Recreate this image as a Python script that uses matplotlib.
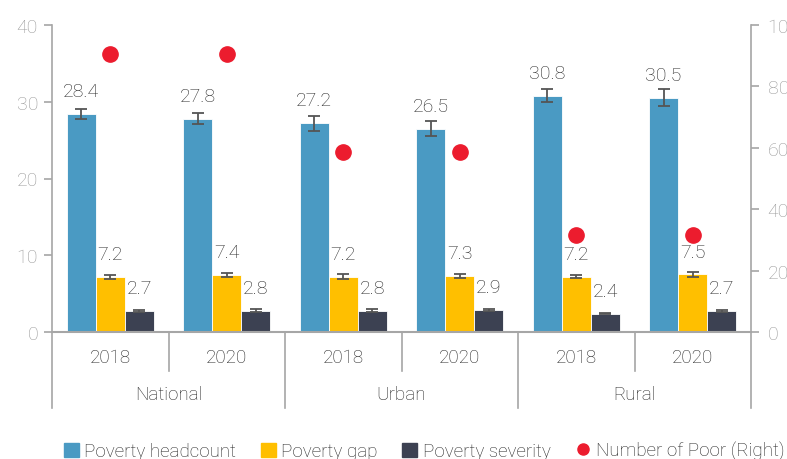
import numpy as np
import matplotlib.pyplot as plt
from matplotlib.lines import Line2D
from matplotlib.patches import Patch

plt.rcParams['font.family'] = ['Roboto', 'DejaVu Sans']
plt.rcParams['font.weight'] = 'light'

groups = ['National', 'Urban', 'Rural']
years = ['2018', '2020', '2018', '2020', '2018', '2020']

headcount = [28.4, 27.8, 27.2, 26.5, 30.8, 30.5]
gap = [7.2, 7.4, 7.2, 7.3, 7.2, 7.5]
severity = [2.7, 2.8, 2.8, 2.9, 2.4, 2.7]
num_poor = [90.5, 90.5, 58.5, 58.5, 31.5, 31.5]

headcount_err = [0.7, 0.75, 0.95, 1.0, 0.8, 1.1]
gap_err = [0.25, 0.25, 0.3, 0.3, 0.2, 0.3]
severity_err = [0.15, 0.15, 0.15, 0.15, 0.1, 0.15]

c_blue = '#4a9ac3'
c_yellow = '#ffbf00'
c_dark = '#3c4152'
c_red = '#ec1c2e'
c_axis = '#a6a6a6'
c_tick = '#999999'
c_text = '#262626'

fig = plt.figure(figsize=(7.87, 4.6), dpi=100)
ax = fig.add_axes([52/787, 1-333/460, (751-52)/787, (333-26)/460])
ax2 = ax.twinx()

x = np.arange(len(years))
w = 0.25
ekw = dict(ecolor='#555555', elinewidth=1.3, capsize=4, capthick=1.3)
series = [(headcount, headcount_err, c_blue, -w),
          (gap, gap_err, c_yellow, 0),
          (severity, severity_err, c_dark, w)]
for vals, errs, col, off in series:
    ax.bar(x + off, vals, w, color=col, edgecolor='white', linewidth=0.6,
           yerr=errs, error_kw=ekw, zorder=2)
    for xi, v in zip(x + off, vals):
        ax.annotate('%.1f' % v, (xi, v), xytext=(0, 10), textcoords='offset points',
                    ha='center', va='bottom', fontsize=14, color=c_text)

ax2.plot(x, num_poor, 'o', color=c_red, markersize=11, zorder=3)

ax.set_xlim(-0.5, 5.5)
ax.set_ylim(0, 40)
ax.set_yticks([0, 10, 20, 30, 40])
ax2.set_ylim(0, 100)
ax2.set_yticks([0, 20, 40, 60, 80, 100])

for a in (ax, ax2):
    for s in a.spines.values():
        s.set_visible(False)
    a.tick_params(axis='y', colors=c_axis, labelcolor=c_tick, labelsize=14,
                  length=6, width=1.2, pad=4)
ax2.tick_params(axis='y', pad=6)
ax.spines['left'].set_visible(True)
ax.spines['left'].set_color(c_axis)
ax.spines['left'].set_linewidth(1.2)
ax2.spines['right'].set_visible(True)
ax2.spines['right'].set_color(c_axis)
ax2.spines['right'].set_linewidth(1.2)
ax.spines['bottom'].set_visible(True)
ax.spines['bottom'].set_color(c_axis)
ax.spines['bottom'].set_linewidth(1.5)
ax.set_xticks([])

# category axis: years and groups with separators
tr = ax.get_xaxis_transform()
for i in range(len(years) + 1):
    xb = i - 0.5
    y_end = -0.247 if i % 2 == 0 else -0.127
    ax.plot([xb, xb], [0, y_end], color=c_axis, lw=1.2, transform=tr, clip_on=False)
for i, yr in enumerate(years):
    ax.text(i, -0.081, yr, transform=tr, ha='center', va='center', fontsize=13.5, color=c_text)
for j, g in enumerate(groups):
    ax.text(2*j + 0.5, -0.202, g, transform=tr, ha='center', va='center', fontsize=13.5, color=c_text)

handles = [Patch(color=c_blue, label='Poverty headcount'),
           Patch(color=c_yellow, label='Poverty gap'),
           Patch(color=c_dark, label='Poverty severity'),
           Line2D([], [], marker='o', ls='', color=c_red, markersize=8, label='Number of Poor (Right)')]
fig.legend(handles=handles, loc='center', bbox_to_anchor=(424/787, 1-452/460), ncol=4,
           frameon=False, fontsize=13.5, handlelength=0.8, handleheight=0.8,
           handletextpad=0.3, columnspacing=1.3, labelcolor=c_text)

fig.savefig('out.png', dpi=100)
